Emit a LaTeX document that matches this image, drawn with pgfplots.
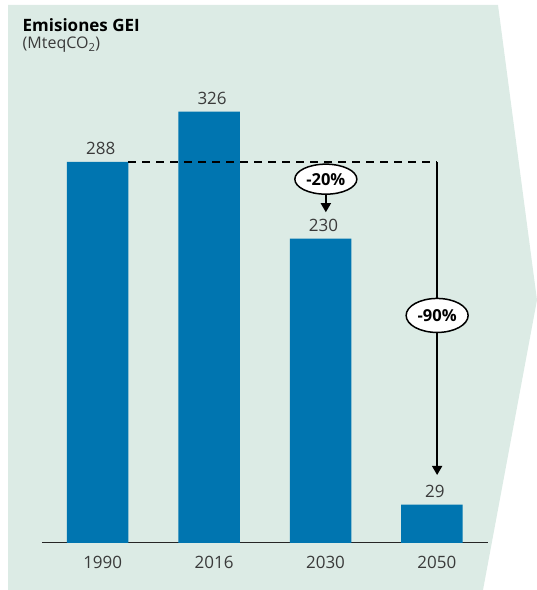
\documentclass[border=0pt]{standalone}
\usepackage{pgfplots}
\pgfplotsset{compat=1.18}
\usepackage{fontspec}
\setmainfont{Open Sans}
\usetikzlibrary{shapes.geometric,arrows.meta}
\definecolor{panel}{HTML}{DCEBE5}
\definecolor{barblue}{HTML}{0075B0}
\definecolor{labelgray}{HTML}{3A3A3A}

\begin{document}
\begin{tikzpicture}[x=1pt,y=1pt]
\useasboundingbox (0,0) rectangle (537,590);
% arrow-shaped backdrop panel
\fill[panel] (8,585) -- (498,585) -- (537,290) -- (483,0) -- (8,0) -- cycle;
\node[anchor=base west, font=\fontsize{17}{20}\selectfont\bfseries, inner sep=0] at (22.5,558) {Emisiones GEI};
\node[anchor=base west, font=\fontsize{16}{20}\selectfont, text=labelgray, inner sep=0] at (22.5,541) {(MteqCO\textsubscript{2})};
\begin{axis}[
  at={(42pt,47pt)}, anchor=south west,
  scale only axis, width=445.6pt, height=529.2pt,
  xmin=-0.5, xmax=3.5, ymin=0, ymax=400,
  axis x line*=bottom, axis y line=none,
  x axis line style={-, line width=1pt, color=black!85},
  xtick={0,1,2,3}, xticklabels={1990,2016,2030,2050},
  major tick length=0pt,
  xticklabel style={anchor=north, inner sep=0pt, yshift=-13pt, xshift=5pt,
    text=labelgray, font=\fontsize{17}{20}\selectfont},
  ytick=\empty,
  /pgf/number format/assume math mode=true,
  clip=false,
]
\addplot[ybar, bar width=61.5pt, bar shift=0pt, fill=barblue, draw=none,
  nodes near coords,
  every node near coord/.append style={anchor=south, inner sep=0pt, yshift=7pt,
    xshift=3pt, text=labelgray, font=\fontsize{17}{20}\selectfont}]
  coordinates {(0,288) (1,326) (2,230) (3,29)};

% 1990 reference level and the 2050 drop
\draw[line width=2pt, dash pattern=on 8pt off 6pt]
  ([xshift=30.75pt]axis cs:0,288) -- (axis cs:3.047,288);
\draw[line width=1.6pt, -{Triangle[length=9pt,width=10pt]}]
  (axis cs:3.047,288) -- (axis cs:3.047,51.4);
\node[ellipse, draw, line width=1.5pt, fill=white, minimum width=62pt,
  minimum height=34pt, inner sep=0pt, font=\fontsize{16.5}{19}\selectfont\bfseries]
  at (axis cs:3.047,172) {-90\%};

% 2030 target
\node[ellipse, draw, line width=1.5pt, fill=white, minimum width=62pt,
  minimum height=30pt, inner sep=0pt, font=\fontsize{16.5}{19}\selectfont\bfseries]
  (e20) at (axis cs:2.048,275) {-20\%};
\draw[line width=1.6pt, -{Triangle[length=9pt,width=10pt]}]
  (e20.south) -- (axis cs:2.048,250);
\end{axis}
\end{tikzpicture}
\end{document}
